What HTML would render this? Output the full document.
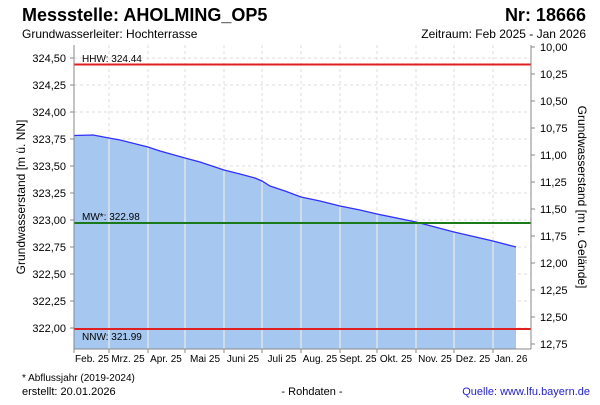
<!DOCTYPE html>
<html><head><meta charset="utf-8"><style>
body{margin:0;background:#fff;}
svg text{font-family:"Liberation Sans",sans-serif;fill:#000;}
</style></head><body>
<svg width="600" height="400" viewBox="0 0 600 400" xmlns="http://www.w3.org/2000/svg">
<rect width="600" height="400" fill="#fff"/>
<text x="22" y="21" font-size="18" font-weight="bold">Messstelle: AHOLMING_OP5</text>
<text x="586" y="21" font-size="18" font-weight="bold" text-anchor="end">Nr: 18666</text>
<text x="22" y="38" font-size="12">Grundwasserleiter:   Hochterrasse</text>
<text x="586" y="38" font-size="12" text-anchor="end">Zeitraum: Feb 2025 - Jan 2026</text>
<g stroke="#ddd" stroke-dasharray="3,3" stroke-width="1">
<line x1="74" x2="531" y1="58" y2="58"/><line x1="74" x2="531" y1="85" y2="85"/><line x1="74" x2="531" y1="112" y2="112"/><line x1="74" x2="531" y1="139" y2="139"/><line x1="74" x2="531" y1="166" y2="166"/><line x1="74" x2="531" y1="193" y2="193"/><line x1="74" x2="531" y1="220" y2="220"/><line x1="74" x2="531" y1="247" y2="247"/><line x1="74" x2="531" y1="274" y2="274"/><line x1="74" x2="531" y1="301" y2="301"/><line x1="74" x2="531" y1="328" y2="328"/>
<line x1="109" x2="109" y1="45" y2="349"/><line x1="148" x2="148" y1="45" y2="349"/><line x1="185" x2="185" y1="45" y2="349"/><line x1="224" x2="224" y1="45" y2="349"/><line x1="262" x2="262" y1="45" y2="349"/><line x1="301" x2="301" y1="45" y2="349"/><line x1="340" x2="340" y1="45" y2="349"/><line x1="377" x2="377" y1="45" y2="349"/><line x1="416" x2="416" y1="45" y2="349"/><line x1="454" x2="454" y1="45" y2="349"/><line x1="493" x2="493" y1="45" y2="349"/>
</g>
<path d="M74,135.5 L93,135 L109,138 L120,140 L140,145 L148,147 L160,151 L185,158 L200,162 L224,170 L240,174 L255,178 L262,181 L270,186 L285,191 L301,197 L320,201 L340,206 L360,210 L377,214 L416,222 L454,232 L493,241 L516,247 L516,349 L74,349 Z" fill="#a6c8f0"/>
<path d="M74,135.5 L93,135 L109,138 L120,140 L140,145 L148,147 L160,151 L185,158 L200,162 L224,170 L240,174 L255,178 L262,181 L270,186 L285,191 L301,197 L320,201 L340,206 L360,210 L377,214 L416,222 L454,232 L493,241 L516,247" fill="none" stroke="#3030ff" stroke-width="1.3"/>
<g stroke="#e8e8e8" stroke-width="1.3">
<line x1="109" x2="109" y1="139" y2="349"/><line x1="148" x2="148" y1="148" y2="349"/><line x1="185" x2="185" y1="159" y2="349"/><line x1="224" x2="224" y1="171" y2="349"/><line x1="262" x2="262" y1="182" y2="349"/><line x1="301" x2="301" y1="198" y2="349"/><line x1="340" x2="340" y1="207" y2="349"/><line x1="377" x2="377" y1="215" y2="349"/><line x1="416" x2="416" y1="223" y2="349"/><line x1="454" x2="454" y1="233" y2="349"/><line x1="493" x2="493" y1="242" y2="349"/>
</g>
<line x1="74" x2="531" y1="64.5" y2="64.5" stroke="#e02020" stroke-width="2"/>
<line x1="74" x2="531" y1="223" y2="223" stroke="#1a7a1a" stroke-width="2"/>
<line x1="74" x2="531" y1="329" y2="329" stroke="#e02020" stroke-width="2"/>
<text x="82" y="62" font-size="10">HHW: 324.44</text>
<text x="82" y="220" font-size="10">MW*: 322.98</text>
<text x="82" y="340" font-size="10">NNW: 321.99</text>
<line x1="74" x2="74" y1="45" y2="349" stroke="#888"/>
<line x1="531" x2="531" y1="45" y2="349" stroke="#888"/>
<line x1="74" x2="531" y1="349" y2="349" stroke="#888"/>
<g stroke="#888">
<line x1="70" x2="74" y1="58" y2="58"/><line x1="70" x2="74" y1="85" y2="85"/><line x1="70" x2="74" y1="112" y2="112"/><line x1="70" x2="74" y1="139" y2="139"/><line x1="70" x2="74" y1="166" y2="166"/><line x1="70" x2="74" y1="193" y2="193"/><line x1="70" x2="74" y1="220" y2="220"/><line x1="70" x2="74" y1="247" y2="247"/><line x1="70" x2="74" y1="274" y2="274"/><line x1="70" x2="74" y1="301" y2="301"/><line x1="70" x2="74" y1="328" y2="328"/>
<line x1="531" x2="535" y1="47" y2="47"/><line x1="531" x2="535" y1="74" y2="74"/><line x1="531" x2="535" y1="101" y2="101"/><line x1="531" x2="535" y1="128" y2="128"/><line x1="531" x2="535" y1="155" y2="155"/><line x1="531" x2="535" y1="182" y2="182"/><line x1="531" x2="535" y1="209" y2="209"/><line x1="531" x2="535" y1="236" y2="236"/><line x1="531" x2="535" y1="263" y2="263"/><line x1="531" x2="535" y1="290" y2="290"/><line x1="531" x2="535" y1="317" y2="317"/><line x1="531" x2="535" y1="344" y2="344"/>
<line x1="74" x2="74" y1="349" y2="353"/><line x1="109" x2="109" y1="349" y2="353"/><line x1="148" x2="148" y1="349" y2="353"/><line x1="185" x2="185" y1="349" y2="353"/><line x1="224" x2="224" y1="349" y2="353"/><line x1="262" x2="262" y1="349" y2="353"/><line x1="301" x2="301" y1="349" y2="353"/><line x1="340" x2="340" y1="349" y2="353"/><line x1="377" x2="377" y1="349" y2="353"/><line x1="416" x2="416" y1="349" y2="353"/><line x1="454" x2="454" y1="349" y2="353"/><line x1="493" x2="493" y1="349" y2="353"/>
</g>
<g font-size="11" text-anchor="end">
<text x="66" y="62">324,50</text><text x="66" y="89">324,25</text><text x="66" y="116">324,00</text><text x="66" y="143">323,75</text><text x="66" y="170">323,50</text><text x="66" y="197">323,25</text><text x="66" y="224">323,00</text><text x="66" y="251">322,75</text><text x="66" y="278">322,50</text><text x="66" y="305">322,25</text><text x="66" y="332">322,00</text>
</g>
<g font-size="11">
<text x="540" y="51">10,00</text><text x="540" y="78">10,25</text><text x="540" y="105">10,50</text><text x="540" y="132">10,75</text><text x="540" y="159">11,00</text><text x="540" y="186">11,25</text><text x="540" y="213">11,50</text><text x="540" y="240">11,75</text><text x="540" y="267">12,00</text><text x="540" y="294">12,25</text><text x="540" y="321">12,50</text><text x="540" y="348">12,75</text>
</g>
<g font-size="10" text-anchor="middle">
<text x="92" y="362">Feb. 25</text><text x="128" y="362">Mrz. 25</text><text x="166" y="362">Apr. 25</text><text x="205" y="362">Mai 25</text><text x="243" y="362">Juni 25</text><text x="282" y="362">Juli 25</text><text x="320" y="362">Aug. 25</text><text x="358" y="362">Sept. 25</text><text x="396" y="362">Okt. 25</text><text x="435" y="362">Nov. 25</text><text x="473" y="362">Dez. 25</text><text x="511" y="362">Jan. 26</text>
</g>
<text transform="translate(25,197) rotate(-90)" font-size="12" text-anchor="middle">Grundwasserstand [m ü. NN]</text>
<text transform="translate(578,197) rotate(90)" font-size="12" text-anchor="middle">Grundwasserstand [m u. Gelände]</text>
<text x="22" y="381" font-size="10">* Abflussjahr (2019-2024)</text>
<text x="22" y="395" font-size="11">erstellt:  20.01.2026</text>
<text x="312" y="395" font-size="11" text-anchor="middle">- Rohdaten -</text>
<text x="590" y="395" font-size="11" text-anchor="end" style="fill:#2020e0">Quelle: www.lfu.bayern.de</text>
</svg>
</body></html>
